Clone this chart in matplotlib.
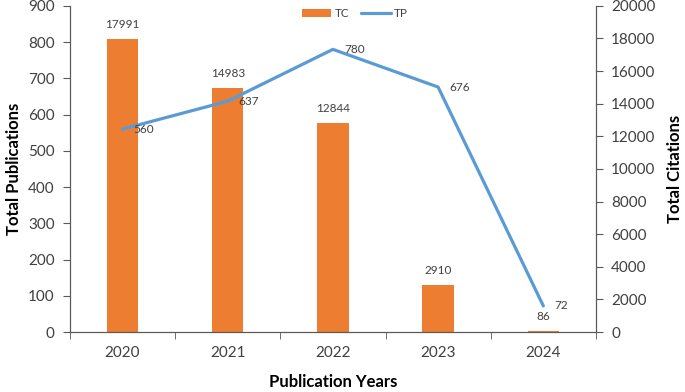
import matplotlib
matplotlib.use("Agg")
import matplotlib.pyplot as plt
import numpy as np

plt.rcParams['font.family'] = ['Lato', 'DejaVu Sans']

years = ["2020", "2021", "2022", "2023", "2024"]
tc = [17991, 14983, 12844, 2910, 86]
tp = [560, 637, 780, 676, 72]

bar_color = "#ED7D31"
line_color = "#5B9BD5"
text_color = "#404040"
axis_color = "#595959"

fig = plt.figure(figsize=(6.85, 3.92), dpi=100)
ax1 = fig.add_axes([0.102, 0.153, 0.768, 0.832])
ax2 = ax1.twinx()

x = np.arange(len(years))

# bars: total citations on the right axis
bars = ax2.bar(x, tc, width=0.3, color=bar_color, label="TC")
for xi, v in zip(x, tc):
    ax2.annotate(str(v), (xi, v), xytext=(0, 6), textcoords="offset points",
                 ha="center", va="bottom", fontsize=8.5, color=text_color)

# line: total publications on the left axis, drawn above the bars
line, = ax1.plot(x, tp, color=line_color, linewidth=2.3, label="TP",
                 solid_capstyle="round")
for xi, v in zip(x, tp):
    ax1.annotate(str(v), (xi, v), xytext=(8, 0), textcoords="offset points",
                 ha="left", va="center", fontsize=8.5, color=text_color)

ax1.set_zorder(ax2.get_zorder() + 1)
ax1.patch.set_visible(False)

ax1.set_xlim(-0.5, len(years) - 0.5)
ax1.set_ylim(0, 900)
ax1.set_yticks(np.arange(0, 901, 100))
ax2.set_ylim(0, 20000)
ax2.set_yticks(np.arange(0, 20001, 2000))

ax1.set_xticks(x)
ax1.set_xticklabels(years)
ax1.set_xticks(np.arange(-0.5, len(years), 1), minor=True)
ax1.tick_params(axis="x", which="major", length=0, pad=10, labelsize=11, colors=text_color)
ax1.tick_params(axis="x", which="minor", length=5, direction="out", color=axis_color)
ax1.tick_params(axis="y", length=5, pad=6, direction="out", labelsize=11, colors=text_color, color=axis_color)
ax2.tick_params(axis="y", length=5, pad=6, direction="out", labelsize=11, colors=text_color, color=axis_color)

for ax in (ax1, ax2):
    ax.spines["top"].set_visible(False)
    for s in ("left", "right", "bottom"):
        ax.spines[s].set_color(axis_color)

ax1.set_xlabel("Publication Years", fontsize=12, fontweight="bold", labelpad=10)
ax1.set_ylabel("Total Publications", fontsize=12, fontweight="bold", labelpad=4)
ax2.set_ylabel("Total Citations", fontsize=12, fontweight="bold", labelpad=8)

ax1.legend([bars, line], ["TC", "TP"], loc="upper center", bbox_to_anchor=(0.542, 1.025),
           ncol=2, frameon=False, fontsize=8.5, handlelength=2.5, handletextpad=0.3,
           columnspacing=1.0, labelcolor=text_color)

fig.savefig("out.png", dpi=100)
